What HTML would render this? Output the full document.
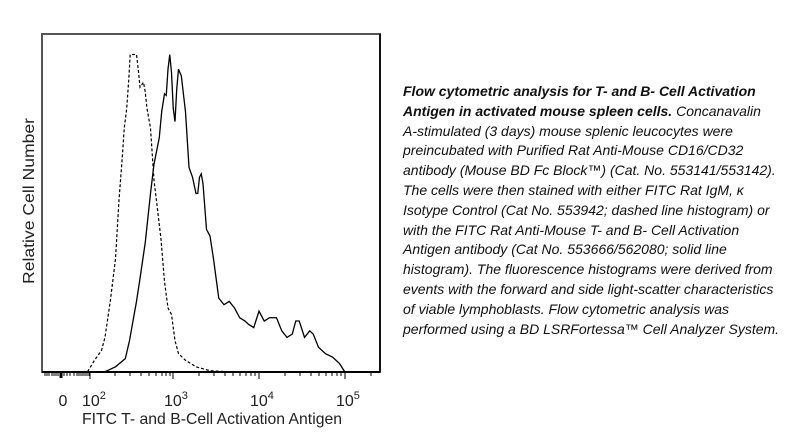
<!DOCTYPE html>
<html><head><meta charset="utf-8"><style>
html,body{margin:0;padding:0;background:#fff;}
body{width:806px;height:437px;position:relative;overflow:hidden;font-family:"Liberation Sans",Arial,sans-serif;}
#cap{position:absolute;left:403px;top:82px;font-size:14px;line-height:19.8px;font-style:italic;color:#111;white-space:nowrap;}
#cap b{font-weight:bold;}
</style></head><body>
<svg width="806" height="437" style="position:absolute;left:0;top:0" font-family="Liberation Sans, Arial, sans-serif">
<rect x="42" y="34" width="338" height="338" fill="none" stroke="#555" stroke-width="2"/>
<line x1="380" y1="34" x2="380" y2="372" stroke="#111" stroke-width="2"/>
<line x1="42" y1="372" x2="380" y2="372" stroke="#000" stroke-width="2"/>
<g stroke="#000" stroke-width="1">
<path d="M45 372v4M47 372v4M49 372v4M52 372v4M54 372v4M56 372v4M58 372v4M60 372v6M61 372v6M62 372v6M64 372v4M67 372v4M70 372v4M74 372v4M77 372v4M79 372v4M81 372v4M83 372v4M85 372v4M87 372v4M89 372v4"/>
<path d="M90 372v7M173 372v7M259 372v7M345 372v7"/>
<path d="M115 372v4M130 372v4M141 372v4M149 372v4M156 372v4M162 372v4M166 372v4M170 372v4
M199 372v4M214 372v4M225 372v4M233 372v4M240 372v4M246 372v4M251 372v4M255 372v4
M285 372v4M300 372v4M311 372v4M319 372v4M326 372v4M332 372v4M337 372v4M341 372v4
M371 372v4"/>
</g>
<g transform="translate(35,30) scale(0.35,0.327)" fill="none" stroke="#000">
<polyline vector-effect="non-scaling-stroke" stroke-width="1.3" points="200,1045 230,1030 258,1005 270,950 290,830 300,760 315,650 330,500 340,410 355,330 362,250 370,195 375,200 380,120 385,75 390,130 395,240 400,280 405,180 410,120 418,140 430,250 440,420 450,450 460,500 465,500 470,450 475,440 480,470 490,610 500,630 510,700 525,820 540,840 555,830 570,850 585,880 600,890 610,900 625,910 640,860 655,890 670,880 690,880 705,920 720,940 735,930 745,890 755,890 770,940 785,920 795,930 810,970 830,990 850,1000 870,1020 885,1045"/>
<polyline vector-effect="non-scaling-stroke" stroke-width="1.2" stroke-dasharray="3,2" points="150,1045 170,1010 190,980 200,940 215,830 230,700 240,520 250,380 255,300 262,240 268,150 272,75 280,75 290,75 295,120 300,175 310,160 315,190 320,240 330,300 340,460 348,530 360,640 370,770 380,850 390,870 400,950 410,990 430,1010 460,1030 500,1042 550,1045 900,1045"/>
</g>
<g font-size="16" fill="#222">
<text x="63" y="406" text-anchor="middle">0</text>
<text x="82" y="406">10<tspan font-size="11" dy="-7">2</tspan></text>
<text x="164" y="406">10<tspan font-size="11" dy="-7">3</tspan></text>
<text x="250" y="406">10<tspan font-size="11" dy="-7">4</tspan></text>
<text x="336" y="406">10<tspan font-size="11" dy="-7">5</tspan></text>
<text x="82" y="424" textLength="260" lengthAdjust="spacingAndGlyphs">FITC T- and B-Cell Activation Antigen</text>
<text transform="translate(34,284) rotate(-90)" textLength="166" lengthAdjust="spacingAndGlyphs">Relative Cell Number</text>
</g>
</svg>
<div id="cap"><b>Flow cytometric analysis for T- and B- Cell Activation</b><br><b>Antigen in activated mouse spleen cells.</b> Concanavalin<br>A-stimulated (3 days) mouse splenic leucocytes were<br>preincubated with Purified Rat Anti-Mouse CD16/CD32<br>antibody (Mouse BD Fc Block™) (Cat. No. 553141/553142).<br>The cells were then stained with either FITC Rat IgM, κ<br>Isotype Control (Cat No. 553942; dashed line histogram) or<br>with the FITC Rat Anti-Mouse T- and B- Cell Activation<br>Antigen antibody (Cat No. 553666/562080; solid line<br>histogram). The fluorescence histograms were derived from<br>events with the forward and side light-scatter characteristics<br>of viable lymphoblasts. Flow cytometric analysis was<br>performed using a BD LSRFortessa™ Cell Analyzer System.</div>
</body></html>
